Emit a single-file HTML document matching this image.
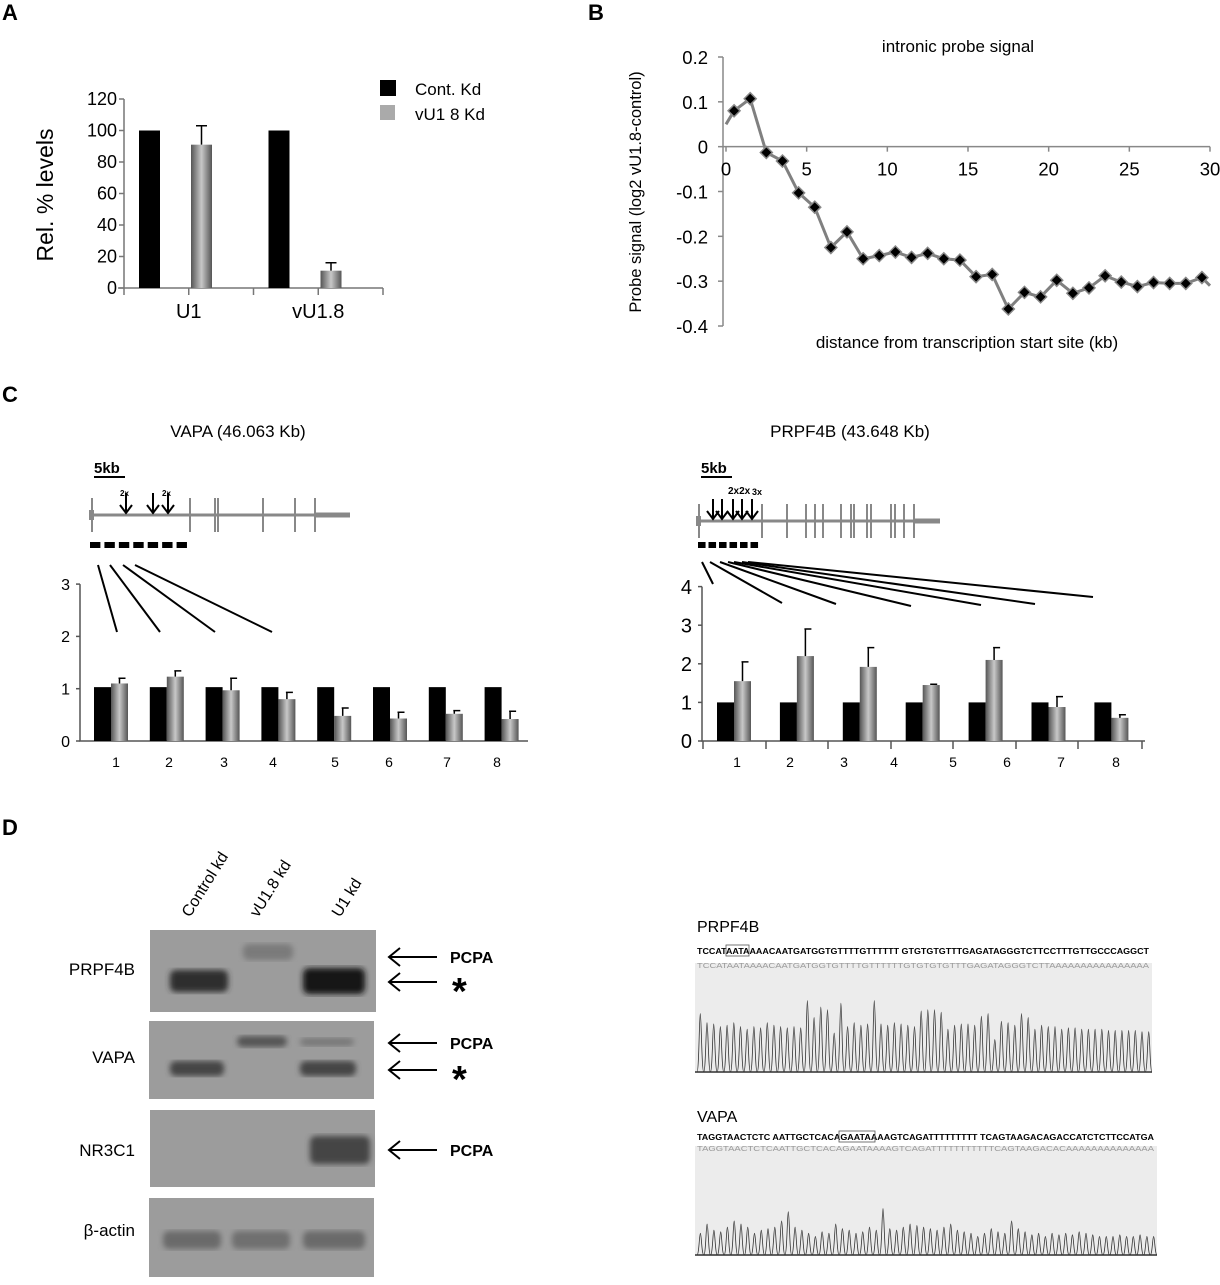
<!DOCTYPE html>
<html><head><meta charset="utf-8"><style>
body{margin:0;background:#fff;}
svg text{font-family:"Liberation Sans",sans-serif;}
</style></head><body>
<svg id="fig" width="1220" height="1280" viewBox="0 0 1220 1280" xmlns="http://www.w3.org/2000/svg">
<defs>
<linearGradient id="gbar" x1="0" x2="1" y1="0" y2="0"><stop offset="0" stop-color="#555"/><stop offset="0.5" stop-color="#c8c8c8"/><stop offset="1" stop-color="#555"/></linearGradient>
<filter id="blur2"><feGaussianBlur stdDeviation="3"/></filter>
</defs>
<g id="panelA"></g>
<g id="panelB"></g>
<g id="panelC"></g>
<g id="panelD"></g>
</svg>
<script>
// ---------- Panel A data ----------
const aCategories = ["U1", "vU1.8"];
const aControl = [100, 100];
const aKd = [91, 11];
const aKdErr = [12, 5];
const aTicks = [0, 20, 40, 60, 80, 100, 120];
// ---------- Panel B data ----------
const bX = [0, 0.5,1.5,2.5,3.5,4.5,5.5,6.5,7.5,8.5,9.5,10.5,11.5,12.5,13.5,14.5,15.5,16.5,17.5,18.5,19.5,20.5,21.5,22.5,23.5,24.5,25.5,26.5,27.5,28.5,29.5, 30];
const bY = [0.05, 0.08,0.107,-0.013,-0.032,-0.103,-0.135,-0.225,-0.19,-0.25,-0.243,-0.235,-0.247,-0.238,-0.25,-0.253,-0.29,-0.285,-0.362,-0.325,-0.335,-0.298,-0.327,-0.315,-0.288,-0.302,-0.312,-0.303,-0.305,-0.305,-0.292, -0.31];
const bMarked = [false,true,true,true,true,true,true,true,true,true,true,true,true,true,true,true,true,true,true,true,true,true,true,true,true,true,true,true,true,true,true,false];
const bYTicks = [0.2, 0.1, 0, -0.1, -0.2, -0.3, -0.4];
const bYTickLabels = ["0.2","0.1","0","-0.1","-0.2","-0.3","-0.4"];
const bXTicks = [0, 5, 10, 15, 20, 25, 30];
// ---------- Panel C data ----------
const cLeftLabels = ["1","2","3","4","5","6","7","8"];
const cLeftControl = [1.03,1.03,1.03,1.03,1.03,1.03,1.03,1.03];
const cLeftKd = [1.1,1.23,0.97,0.8,0.48,0.43,0.52,0.42];
const cLeftErrTop = [1.2,1.34,1.2,0.93,0.63,0.55,0.58,0.57];
const cLeftTicks = [0,1,2,3];
const cRightLabels = ["1","2","3","4","5","6","7","8"];
const cRightControl = [1,1,1,1,1,1,1];
const cRightKd = [1.55,2.2,1.92,1.45,2.1,0.88,0.6];
const cRightErrTop = [2.05,2.9,2.42,1.47,2.42,1.15,0.68];
const cRightTicks = [0,1,2,3,4];

const NS = "http://www.w3.org/2000/svg";
function el(parent, tag, attrs, text){
  const e = document.createElementNS(NS, tag);
  for (const k in attrs) e.setAttribute(k, attrs[k]);
  if (text !== undefined) e.textContent = text;
  parent.appendChild(e);
  return e;
}

// ================= Panel A =================
(function(){
  const g = document.getElementById('panelA');
  const t = el(g,'text',{x:2,y:20,'font-size':22,'font-weight':'bold'},'A');
   
  const x0=124, x1=383, y0=288, yTop=99;
  const ys = v => y0 - (v/120)*(y0-yTop);
  const ax = el(g,'path',{d:`M${x0},${yTop} V${y0} M${x0-6},${y0} H${x1}`,stroke:'#777','stroke-width':1.5,fill:'none'});
   
  aTicks.forEach(v=>{
    el(g,'line',{x1:x0-5,x2:x0,y1:ys(v),y2:ys(v),stroke:'#777','stroke-width':1.5});
    const l = el(g,'text',{x:x0-7,y:ys(v)+6,'font-size':18,'text-anchor':'end'},String(v));
     
  });
  const gw = (x1-x0)/aCategories.length;
  for(let i=0;i<=aCategories.length*2;i++){ el(g,'line',{x1:x0+i*gw/2,x2:x0+i*gw/2,y1:y0,y2:y0+7,stroke:'#777','stroke-width':1.5}); }
  aCategories.forEach((c,i)=>{
    const gx = x0 + i*gw;
    const b1 = el(g,'rect',{x:gx+15,y:ys(aControl[i]),width:21,height:y0-ys(aControl[i]),fill:'#000'});
     
    const bx = gx+67;
    const b2 = el(g,'rect',{x:bx,y:ys(aKd[i]),width:21,height:y0-ys(aKd[i]),fill:'url(#gbar)'});
     
    el(g,'path',{d:`M${bx+10.5},${ys(aKd[i])} V${ys(aKd[i]+aKdErr[i])} M${bx+5},${ys(aKd[i]+aKdErr[i])} H${bx+16}`,stroke:'#000','stroke-width':1.5});
    const l = el(g,'text',{x:gx+gw/2,y:318,'font-size':20,'text-anchor':'middle'},c);
     
  });
  const yt = el(g,'text',{transform:'translate(53,195) rotate(-90)','font-size':23,'text-anchor':'middle'},'Rel. % levels');
   
  el(g,'rect',{x:380,y:80,width:16,height:16,fill:'#000'});
  const le1 = el(g,'text',{x:415,y:95,'font-size':17},'Cont. Kd');
   
  el(g,'rect',{x:380,y:105,width:15,height:15,fill:'#aaa'});
  const le2 = el(g,'text',{x:415,y:120,'font-size':17},'vU1 8 Kd');
   
})();

// ================= Panel B =================
(function(){
  const g = document.getElementById('panelB');
  const t = el(g,'text',{x:588,y:20,'font-size':22,'font-weight':'bold'},'B');
   
  const xL=723, xR=1210, yT=57, yB=326;
  const xs = v => 726 + v*(1210-726)/30;
  const ys = v => yT + (0.2 - v)/0.6*(yB-yT);
  el(g,'path',{d:`M${xL},${yT} V${yB}`,stroke:'#888','stroke-width':1.5,fill:'none'});
  el(g,'path',{d:`M${xL},${ys(0)} H${xR}`,stroke:'#888','stroke-width':1.5,fill:'none'});
  bYTicks.forEach((v,i)=>{
    el(g,'line',{x1:xL-5,x2:xL,y1:ys(v),y2:ys(v),stroke:'#888','stroke-width':1.5});
    const l = el(g,'text',{x:xL-15,y:ys(v)+7,'font-size':18.5,'text-anchor':'end'},bYTickLabels[i]);
     
  });
  bXTicks.forEach(v=>{
    el(g,'line',{x1:xs(v),x2:xs(v),y1:ys(0),y2:ys(0)+5,stroke:'#888','stroke-width':1.5});
    const l = el(g,'text',{x:xs(v),y:ys(0)+29,'font-size':18.5,'text-anchor':'middle'},String(v));
     
  });
  const d = bX.map((x,i)=>(i?'L':'M')+xs(x).toFixed(1)+','+ys(bY[i]).toFixed(1)).join(' ');
  const line = el(g,'path',{d:d,stroke:'#808080','stroke-width':3,fill:'none'});
   
  bX.forEach((x,i)=>{
    if(!bMarked[i]) return;
    const cx=xs(x), cy=ys(bY[i]);
    const m = el(g,'path',{d:`M${cx},${cy-6} L${cx+6},${cy} L${cx},${cy+6} L${cx-6},${cy} Z`,fill:'#000',stroke:'#888','stroke-width':1.5});
     
  });
  const tt = el(g,'text',{x:958,y:52,'font-size':17,'text-anchor':'middle'},'intronic probe signal');
   
  const xt = el(g,'text',{x:967,y:348,'font-size':17,'text-anchor':'middle'},'distance from transcription start site (kb)');
   
  const yt = el(g,'text',{transform:'translate(641,192) rotate(-90)','font-size':16.5,'text-anchor':'middle'},'Probe signal (log2 vU1.8-control)');
   
})();

// ================= Panel C =================
(function(){
  const g = document.getElementById('panelC');
  const t = el(g,'text',{x:2,y:402,'font-size':22,'font-weight':'bold'},'C');
   
  const t1 = el(g,'text',{x:238,y:437,'font-size':17,'text-anchor':'middle'},'VAPA (46.063 Kb)');
   
  const t2 = el(g,'text',{x:850,y:437,'font-size':17,'text-anchor':'middle'},'PRPF4B (43.648 Kb)');
   

  function gene(x0, xEnd, thickStart, exons, arrows, dashX0, dashX1, nDash, yLine, lines, labels){
    const s = el(g,'text',{x:x0+3,y:473,'font-size':15,'font-weight':'bold'},'5kb');
     
    el(g,'line',{x1:x0+3,x2:x0+34,y1:477,y2:477,stroke:'#000','stroke-width':2});
    el(g,'line',{x1:x0,x2:thickStart,y1:yLine,y2:yLine,stroke:'#888','stroke-width':3});
    el(g,'line',{x1:thickStart,x2:xEnd,y1:yLine,y2:yLine,stroke:'#888','stroke-width':5});
    el(g,'rect',{x:x0-2,y:yLine-5,width:5,height:10,fill:'#888'});
    exons.forEach(x=>el(g,'line',{x1:x,x2:x,y1:yLine-17,y2:yLine+17,stroke:'#888','stroke-width':2}));
    arrows.forEach(x=>{
      el(g,'line',{x1:x,x2:x,y1:yLine-22,y2:yLine-2,stroke:'#000','stroke-width':2});
      el(g,'path',{d:`M${x-6},${yLine-10} L${x},${yLine-2} L${x+6},${yLine-10}`,stroke:'#000','stroke-width':2,fill:'none'});
    });
    labels.forEach(l=>el(g,'text',{x:l[0],y:l[1],'font-size':l[2],'font-weight':'bold'},l[3]));
    const w=(dashX1-dashX0)/nDash;
    for(let i=0;i<nDash;i++) el(g,'rect',{x:dashX0+i*w,y:542,width:w*0.72,height:6,fill:'#000'});
    lines.forEach(l=>el(g,'line',{x1:l[0],y1:l[1],x2:l[2],y2:l[3],stroke:'#000','stroke-width':2}));
  }
  gene(91,350,315,[92,190,215,218,263,295,315],[126,153,168],90,191,7,515,
    [[98,565,117,632],[110,565,160,632],[123,565,215,632],[135,565,272,632]],
    [[120,496,8,'2x'],[162,496,8,'2x']]);
  gene(698,940,913,[699,762,787,806,815,823,841,851,854,867,871,891,895,904,914],[713,722,733,742,752],698,761,6,521,
    [[702,562,713,584],[710,562,782,603],[720,562,836,604],[728,562,911,606],[734,562,981,605],[742,562,1035,604],[748,562,1093,597]],
    [[728,494,10,'2x2x'],[752,495,9,'3x']]);

  function barChart(xL, xR, y0, pxPerUnit, ticks, ctrl, kd, err, labels, labelX, groupStart, groupW, bw, tickMarks, fs, name){
    const ys = v => y0 - v*pxPerUnit;
    const yTop = ys(ticks[ticks.length-1]);
    el(g,'path',{d:`M${xL},${yTop} V${y0} H${xR}`,stroke:'#555','stroke-width':1.5,fill:'none'});
    ticks.forEach(v=>{
      el(g,'line',{x1:xL-4,x2:xL,y1:ys(v),y2:ys(v),stroke:'#555','stroke-width':1.5});
      const l = el(g,'text',{x:xL-10,y:ys(v)+fs*0.36,'font-size':fs,'text-anchor':'end'},String(v));
       
    });
    tickMarks.forEach(x=>el(g,'line',{x1:x,x2:x,y1:y0,y2:y0+8,stroke:'#555','stroke-width':1.5}));
    ctrl.forEach((v,i)=>{
      const gx = groupStart + i*groupW;
      const b1 = el(g,'rect',{x:gx,y:ys(v),width:bw,height:y0-ys(v),fill:'#000'});
       
      const bx = gx+bw;
      const b2 = el(g,'rect',{x:bx,y:ys(kd[i]),width:bw,height:y0-ys(kd[i]),fill:'url(#gbar)'});
       
      el(g,'path',{d:`M${bx+bw/2},${ys(kd[i])} V${ys(err[i])} M${bx+bw/2-1},${ys(err[i])} H${bx+bw/2+6}`,stroke:'#000','stroke-width':1.5});
    });
    labels.forEach((lab,i)=>{
      const l = el(g,'text',{x:labelX[i],y:y0+26,'font-size':14,'text-anchor':'middle'},lab);
       
    });
  }
  barChart(80,528,741,52.3,cLeftTicks,cLeftControl,cLeftKd,cLeftErrTop,cLeftLabels,
    [116,169,224,273,335,389,447,497],94,55.8,17,[],16,'vapa');
  barChart(702,1145,741,38.6,cRightTicks,cRightControl,cRightKd,cRightErrTop,cRightLabels,
    [737,790,844,894,953,1007,1061,1116],717,62.9,17,[703,766,828,891,953,1016,1078,1142],20,'prpf4b');
})();

// ================= Panel D =================
(function(){
  const g = document.getElementById('panelD');
  const t = el(g,'text',{x:2,y:835,'font-size':22,'font-weight':'bold'},'D');
   
  [['Control kd',190,918],['vU1.8 kd',258,918],['U1  kd',340,918]].forEach(c=>{
    const l = el(g,'text',{transform:`translate(${c[1]},${c[2]}) rotate(-58)`,'font-size':16},c[0]);
     
  });
  const boxes = [[150,930,226,82,'PRPF4B',975],[149,1021,225,78,'VAPA',1063],[150,1110,225,77,'NR3C1',1156],[149,1198,225,79,'β-actin',1236]];
  boxes.forEach(b=>{
    const r = el(g,'rect',{x:b[0],y:b[1],width:b[2],height:b[3],fill:'#9c9c9c'});
     
    const l = el(g,'text',{x:135,y:b[5],'font-size':17,'text-anchor':'end'},b[4]);
     
  });
  const bands = [[170,970,58,22,'#2e2e2e'],[243,944,50,16,'#7a7a7a'],[303,968,62,26,'#151515'],
    [237,1036,50,11,'#555'],[300,1038,54,8,'#777'],[170,1061,54,15,'#444'],[300,1061,56,15,'#444'],
    [310,1136,60,28,'#454545'],[163,1231,58,18,'#6a6a6a'],[232,1231,58,18,'#707070'],[303,1231,62,18,'#6a6a6a']];
  bands.forEach(b=>{
    const e = el(g,'rect',{x:b[0],y:b[1],width:b[2],height:b[3],rx:6,fill:b[4],filter:'url(#blur2)'});
     
  });
  const arr = [[957,'PCPA'],[982,'*'],[1043,'PCPA'],[1070,'*'],[1150,'PCPA']];
  arr.forEach(a=>{
    el(g,'path',{d:`M437,${a[0]} H390 M400,${a[0]-9} L389,${a[0]} L400,${a[0]+9}`,stroke:'#000','stroke-width':2,fill:'none'});
    const l = a[1]==='*' ? el(g,'text',{x:452,y:a[0]+22,'font-size':38,'font-weight':'bold'},'*')
                         : el(g,'text',{x:450,y:a[0]+6,'font-size':16,'font-weight':'bold'},'PCPA');
     
  });

  const peaks1 = [45,38,37,35,36,38,35,33,35,34,38,36,35,34,35,34,55,42,50,48,30,53,35,38,36,37,55,37,36,38,37,36,35,47,48,48,46,33,36,37,37,36,43,45,25,39,38,36,45,42,33,36,35,35,33,34,34,33,33,33,33,32,32,32,32,32,31,31];
  const peaks2 = [14,20,16,15,18,22,20,18,14,16,17,18,22,28,18,16,14,12,15,14,20,17,16,14,15,18,16,30,17,16,18,20,19,18,17,16,18,20,16,15,14,12,14,17,15,14,22,17,15,13,14,12,14,13,14,13,15,14,13,12,12,12,13,12,12,13,12,12];
  function trace(name, yLabel, seqTop, seqBot, boxY, boxH, peaks, boxX1, boxed, scale){
    const l = el(g,'text',{x:697,y:yLabel,'font-size':16},name);
     
    const s = el(g,'text',{x:697,y:seqTop[1],'font-size':8.6,'font-family':'Liberation Mono, monospace','font-weight':'bold',textLength:boxX1-700,lengthAdjust:'spacingAndGlyphs'},seqTop[0]);
     
    el(g,'rect',{x:695,y:boxY,width:boxX1-695,height:boxH,fill:'#ececec'});
    const s2 = el(g,'text',{x:697,y:seqBot[1],'font-size':7,'font-family':'Liberation Mono, monospace',fill:'#999',textLength:boxX1-700,lengthAdjust:'spacingAndGlyphs'},seqBot[0]);
     
    el(g,'rect',{x:boxed[0],y:seqTop[1]-9,width:boxed[1],height:11,fill:'none',stroke:'#555','stroke-width':0.8});
    const base = boxY+boxH-1;
    const w = (boxX1-697)/peaks.length;
    let d = `M697,${base}`;
    peaks.forEach((h,i)=>{ const x=697+i*w; const top=base-h*scale;
      d+=` C${(x+w*0.3).toFixed(1)},${base} ${(x+w*0.35).toFixed(1)},${top.toFixed(1)} ${(x+w*0.5).toFixed(1)},${top.toFixed(1)} C${(x+w*0.65).toFixed(1)},${top.toFixed(1)} ${(x+w*0.7).toFixed(1)},${base} ${(x+w).toFixed(1)},${base}`; });
    const p = el(g,'path',{d:d,stroke:'#333','stroke-width':0.8,fill:'none'});
     
    el(g,'line',{x1:695,x2:boxX1,y1:base,y2:base,stroke:'#333','stroke-width':1.5});
  }
  trace('PRPF4B',932,['TCCATAATAAAACAATGATGGTGTTTTGTTTTTT GTGTGTGTTTGAGATAGGGTCTTCCTTTGTTGCCCAGGCT',954],
    ['TCCATAATAAAACAATGATGGTGTTTTGTTTTTTGTGTGTGTTTGAGATAGGGTCTTAAAAAAAAAAAAAAAA',968],963,110,peaks1,1152,[726,23],1.3);
  trace('VAPA',1122,['TAGGTAACTCTC AATTGCTCACAGAATAAAAGTCAGATTTTTTTTT TCAGTAAGACAGACCATCTCTTCCATGA',1140],
    ['TAGGTAACTCTCAATTGCTCACAGAATAAAAGTCAGATTTTTTTTTTTCAGTAAGACACAAAAAAAAAAAAAA',1151],1146,110,peaks2,1157,[839,36],1.55);
})();
</script>
</body></html>
